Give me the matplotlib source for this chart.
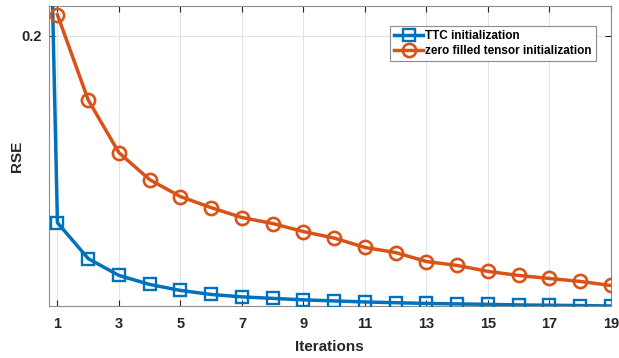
import matplotlib
matplotlib.use('Agg')
import matplotlib.pyplot as plt

plt.rcParams['font.family'] = ['Liberation Sans', 'DejaVu Sans']

# iteration 0 for TTC lies far above the visible range (clipped)
iters_ttc = list(range(0, 20))
rse_ttc = [1.0, 0.0753, 0.0513, 0.040, 0.034, 0.030, 0.0273, 0.0257, 0.0247,
           0.0237, 0.0230, 0.0223, 0.0218, 0.0213, 0.0210, 0.0207, 0.0203,
           0.0201, 0.0199, 0.0196]

iters_zero = list(range(1, 20))
rse_zero = [0.2142, 0.1573, 0.122, 0.104, 0.0927, 0.0853, 0.0787, 0.0747,
            0.0693, 0.065, 0.0587, 0.0553, 0.0493, 0.0467, 0.0427, 0.040,
            0.038, 0.036, 0.0333]

xticks = [1, 3, 5, 7, 9, 11, 13, 15, 17, 19]
yticks = [0.2]

blue = '#0072BD'
orange = '#D95319'
dark = '#262626'

fig = plt.figure(figsize=(6.19, 3.58), dpi=100)
ax = fig.add_axes([48.5 / 619, 52 / 358, (611 - 48.5) / 619, 300 / 358])

ax.plot(iters_ttc, rse_ttc, color=blue, lw=2.5, marker='s', ms=8,
        mfc='none', mec=blue, mew=1.7, label='TTC initialization', zorder=3)
ax.plot(iters_zero, rse_zero, color=orange, lw=2.5, marker='o', ms=9.5,
        mfc='none', mec=orange, mew=1.9, label='zero filled tensor initialization',
        zorder=3)

ax.set_xlim(0.71, 19)
ax.set_ylim(0.0196, 0.22)
ax.set_xticks(xticks)
ax.set_yticks(yticks)
ax.set_yticklabels(['0.2'])
ax.grid(True, color='#e3e3e3', lw=0.8)
ax.set_axisbelow(True)

ax.tick_params(direction='in', top=True, right=True, length=4, width=0.8,
               colors=dark, labelsize=10.5)
ax.tick_params(axis='x', pad=8)
ax.tick_params(axis='y', pad=5)
for lab in ax.get_xticklabels() + ax.get_yticklabels():
    lab.set_fontweight('bold')
for s in ax.spines.values():
    s.set_color('#8c8c8c')
    s.set_linewidth(0.8)

ax.set_xlabel('Iterations', fontsize=11, fontweight='bold', color=dark)
ax.xaxis.set_label_coords(0.5, -0.112)
ax.set_ylabel('RSE', fontsize=11, fontweight='bold', color=dark)
ax.yaxis.set_label_coords(-0.043, 0.5)

leg = ax.legend(loc='upper right', bbox_to_anchor=(0.973, 0.933),
                prop={'size': 8.5, 'weight': 'bold'}, frameon=True,
                fancybox=False, framealpha=1, edgecolor='#8c8c8c',
                handlelength=2.4, handletextpad=0.2, borderpad=0.35,
                labelspacing=0.25, borderaxespad=0)
leg.get_frame().set_linewidth(0.8)

fig.savefig('out.png', dpi=100)
